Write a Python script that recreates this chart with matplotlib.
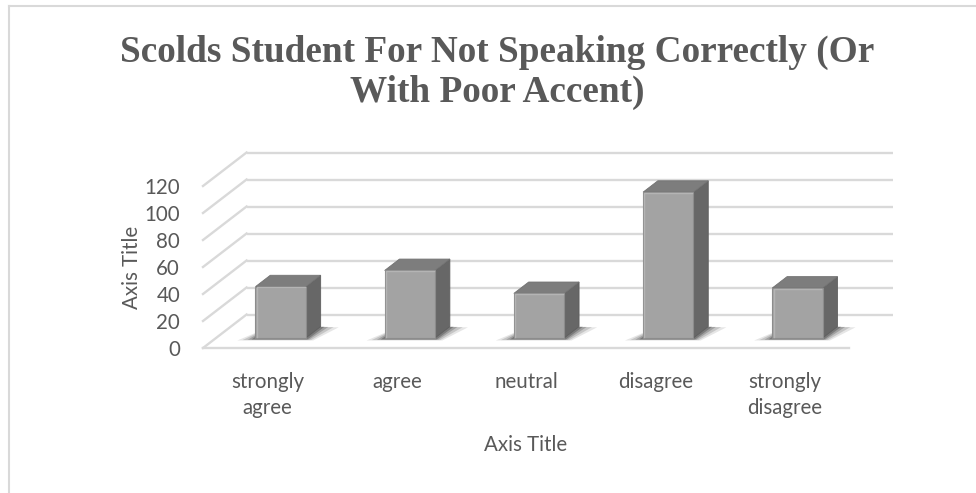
import matplotlib
matplotlib.use('Agg')
import matplotlib.pyplot as plt
from matplotlib.patches import Polygon
from matplotlib.lines import Line2D

# data
categories = ['strongly\nagree', 'agree', 'neutral', 'disagree', 'strongly\ndisagree']
counts = [38, 50, 33, 108, 37]
yticks = [0, 20, 40, 60, 80, 100, 120]

title_lines = ['Scolds Student For Not Speaking Correctly (Or', 'With Poor Accent)']

text_color = '#595959'
grid_color = '#d9d9d9'

W, H = 976, 493
fig = plt.figure(figsize=(W / 100, H / 100), dpi=100)
ax = fig.add_axes([203 / W, 145 / H, 646 / W, 162 / H])
ax.set_xlim(-0.5, 4.5)
ax.set_ylim(0, 120)

# fake 3d: depth vector of the floor (category units, value units)
dx, dy = 0.337, 24.8
f0, f1 = 0.30, 0.64   # bar front / back depth fraction
bw = 0.39             # bar width

# back wall + left wall gridlines
for v in yticks:
    ax.plot([-0.5 + dx, 4.5 + dx], [v + dy, v + dy], color=grid_color, lw=1.7,
            clip_on=False, zorder=1, solid_capstyle='butt')
    ax.plot([-0.5, -0.5 + dx], [v, v + dy], color=grid_color, lw=1.7,
            clip_on=False, zorder=1)
# front edge of the floor
ax.plot([-0.5, 4.5], [0, 0], color=grid_color, lw=1.7, clip_on=False, zorder=1)

for i, v in enumerate(counts):
    xl, xr = i - bw / 2, i + bw / 2
    fx, fy = f0 * dx, f0 * dy
    bx, by = f1 * dx, f1 * dy

    # soft shadow on the floor, darker near the bar foot
    for g, a in [(0.14, 0.12), (0.10, 0.18), (0.06, 0.25), (0.03, 0.35)]:
        shadow = [(xl + fx - g, fy - 0.9 - g * 7),
                  (xr + fx + g * 0.4, fy - 0.9 - g * 7),
                  (xr + bx + g, by - g * 4),
                  (xl + bx, by)]
        ax.add_patch(Polygon(shadow, closed=True, facecolor='#333333', alpha=a,
                             edgecolor='none', clip_on=False, zorder=2))

    front = [(xl + fx, fy), (xr + fx, fy), (xr + fx, v + fy), (xl + fx, v + fy)]
    side = [(xr + fx, fy), (xr + bx, by), (xr + bx, v + by), (xr + fx, v + fy)]
    top = [(xl + fx, v + fy), (xr + fx, v + fy), (xr + bx, v + by), (xl + bx, v + by)]
    ax.add_patch(Polygon(side, closed=True, facecolor='#676767', edgecolor='#5e5e5e',
                         lw=0.6, clip_on=False, zorder=3))
    ax.add_patch(Polygon(top, closed=True, facecolor='#7d7d7d', edgecolor='#727272',
                         lw=0.6, clip_on=False, zorder=3))
    ax.add_patch(Polygon(front, closed=True, facecolor='#a3a3a3', edgecolor='#8c8c8c',
                         lw=0.8, clip_on=False, zorder=4))
    # light bevel line at the front top / left
    ax.plot([xl + fx + 0.01, xl + fx + 0.01, xr + fx - 0.01],
            [fy + 0.5, v + fy - 0.6, v + fy - 0.6], color='#b4b4b4', lw=1.0,
            clip_on=False, zorder=5)

for s in ax.spines.values():
    s.set_visible(False)
ax.set_facecolor('none')

tick_font = dict(family=['Lato', 'DejaVu Sans'], size=14.8, color=text_color)
ax.set_xticks(range(len(categories)))
ax.set_xticklabels(categories, **tick_font)
ax.set_yticks(yticks)
ax.set_yticklabels([str(t) for t in yticks], **tick_font)
for lab in ax.get_xticklabels():
    lab.set_linespacing(1.4)
ax.tick_params(axis='x', length=0, pad=17)
ax.tick_params(axis='y', length=0, pad=16.5)

ax.set_xlabel('Axis Title', **tick_font)
ax.xaxis.set_label_coords(0.5, -0.6)
ax.xaxis.label.set_va('center')
ax.set_ylabel('Axis Title', **tick_font)
ax.yaxis.set_label_coords(-0.11, 0.5)
ax.yaxis.label.set_va('center')

# title, two lines like the original
title_font = dict(family=['Liberation Serif', 'DejaVu Serif'], weight='bold',
                  size=26.8, color=text_color, ha='center', va='baseline')
fig.text(497 / W, 1 - 61.5 / H, title_lines[0], **title_font)
fig.text(497 / W, 1 - 102 / H, title_lines[1], **title_font)

# chart area border (only left and top visible in the crop)
fig.add_artist(Line2D([9 / W, 9 / W], [0, 1 - 6 / H], transform=fig.transFigure,
                      color=grid_color, lw=1.5))
fig.add_artist(Line2D([9 / W, 1], [1 - 6 / H, 1 - 6 / H], transform=fig.transFigure,
                      color=grid_color, lw=1.5))

fig.savefig('out.png', dpi=100, facecolor='white')
